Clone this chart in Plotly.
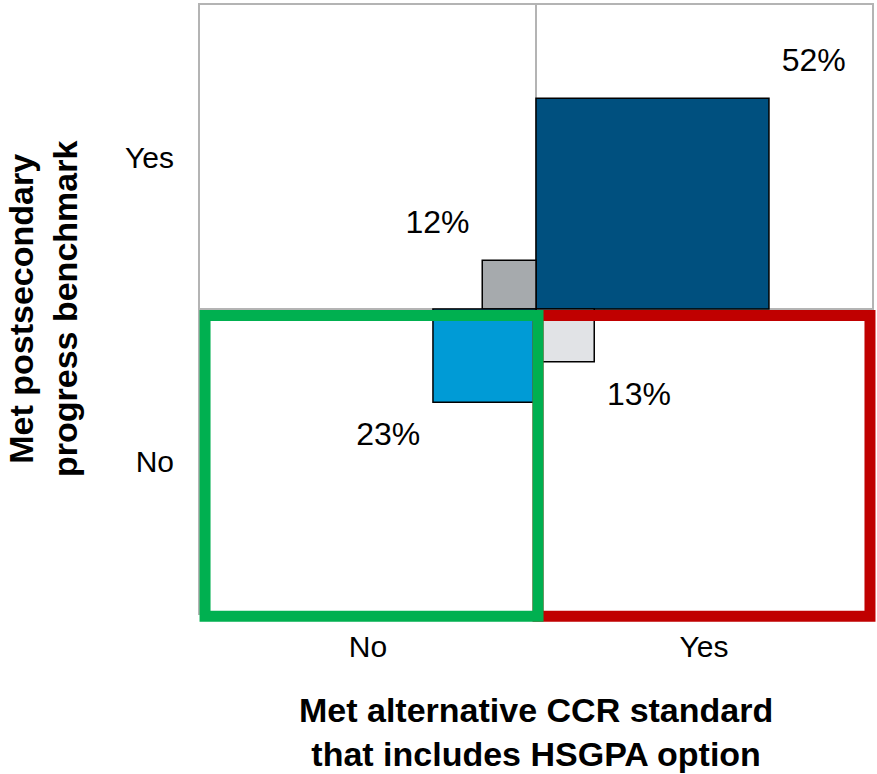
import plotly.graph_objects as go

# Data
ccr_categories = ["No", "Yes"]            # x axis (Met alternative CCR standard)
benchmark_categories = ["No", "Yes"]      # y axis (Met postsecondary progress benchmark)
# shares per quadrant: (ccr, benchmark)
quadrant_ccr = ["Yes", "No", "Yes", "No"]
quadrant_bench = ["Yes", "Yes", "No", "No"]
quadrant_pct = [52, 12, 13, 23]
quadrant_colors = ["#00507F", "#A6AAAD", "#E1E3E6", "#009BD6"]

SCALE = 75.0  # percent that would fill a whole quadrant

def sign(cat):
    return 1 if cat == "Yes" else -1

fig = go.Figure()

shapes = []
lx, ly, lt = [], [], []
for c, b, p, col in zip(quadrant_ccr, quadrant_bench, quadrant_pct, quadrant_colors):
    s = p / SCALE
    sx, sy = sign(c), sign(b)
    shapes.append(dict(type="rect", xref="x", yref="y",
                       x0=0, x1=sx * s, y0=0, y1=sy * s,
                       fillcolor=col, line=dict(color="black", width=1.5),
                       layer="above"))
    lx.append(sx * (s + 0.133))
    ly.append(sy * (s + 0.115))
    lt.append(f"{p}%")

# highlight boxes around the bottom quadrants (paper coords so thick lines are not clipped)
def px(v):
    return (v + 1) / 2

shapes.append(dict(type="rect", xref="paper", yref="paper",
                   x0=px(0.006), x1=px(0.994), y0=px(-1.011), y1=px(-0.021),
                   line=dict(color="#C00000", width=11), fillcolor="rgba(0,0,0,0)", layer="above"))
shapes.append(dict(type="rect", xref="paper", yref="paper",
                   x0=px(-0.985), x1=px(0.006), y0=px(-1.011), y1=px(-0.021),
                   line=dict(color="#00B050", width=11), fillcolor="rgba(0,0,0,0)", layer="above"))

fig.add_trace(go.Scatter(x=lx, y=ly, text=lt, mode="text",
                         textfont=dict(size=32, color="black", family="Arial, Liberation Sans"),
                         hoverinfo="skip", showlegend=False, cliponaxis=False))

axis_common = dict(range=[-1, 1], showgrid=False, zeroline=True, zerolinecolor="#B4B4B4",
                   zerolinewidth=2, showline=True, linecolor="#B4B4B4", linewidth=2, mirror=True,
                   ticks="outside", tickcolor="rgba(0,0,0,0)",
                   tickfont=dict(size=30, color="black", family="Arial, Liberation Sans"),
                   fixedrange=True)

fig.update_layout(
    width=877, height=774,
    margin=dict(l=200, r=3, t=5, b=161),
    paper_bgcolor="white", plot_bgcolor="white",
    shapes=shapes,
    xaxis=dict(tickvals=[-0.5, 0.5], ticktext=ccr_categories, ticklen=6, **axis_common),
    yaxis=dict(tickvals=[-0.5, 0.5], ticktext=benchmark_categories, ticklen=18, **axis_common),
    annotations=[
        dict(text="<b>Met alternative CCR standard<br>that includes HSGPA option</b>",
             xref="paper", yref="paper", x=0.5, y=0, yanchor="middle", xanchor="center",
             yshift=-119, showarrow=False,
             font=dict(size=34, color="black", family="Arial, Liberation Sans")),
        dict(text="<b>Met postsecondary<br>progress benchmark</b>",
             xref="paper", yref="paper", x=0, y=0.5, xanchor="center", yanchor="middle",
             xshift=-157, textangle=-90, showarrow=False,
             font=dict(size=34, color="black", family="Arial, Liberation Sans")),
    ],
)

fig.write_html("out.html", config={"displayModeBar": False},
               post_script="document.body.style.margin='0';document.body.style.overflow='hidden';")
